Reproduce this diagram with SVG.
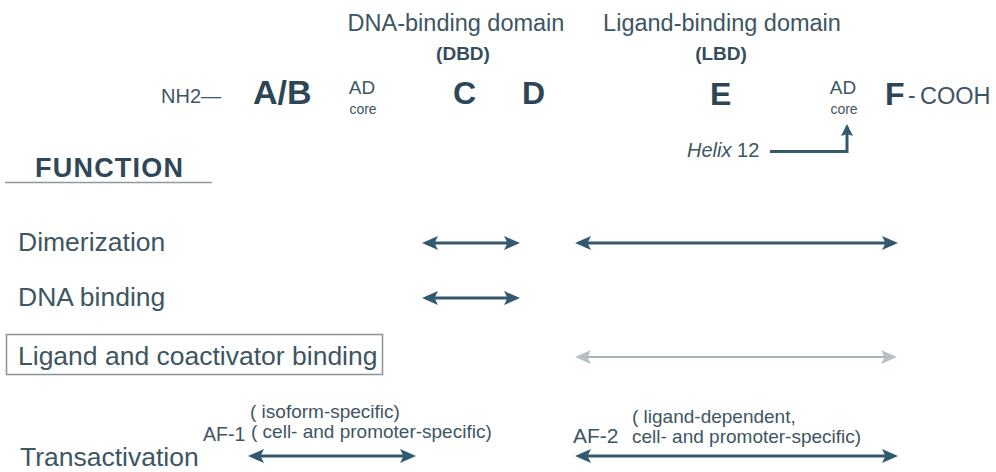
<svg xmlns="http://www.w3.org/2000/svg" width="996" height="472" viewBox="0 0 996 472">
<defs>
<style>
text{font-family:"Liberation Sans",Arial,sans-serif;fill:#3e5562}
.big{font-weight:bold;font-size:32px;fill:#2c4657}
.hdr{font-size:23.5px;text-anchor:middle}
.abbr{font-size:19px;font-weight:bold;text-anchor:middle;fill:#354d5b}
.ad{font-size:19px;text-anchor:middle}
.core{font-size:14px;text-anchor:middle}
.lbl{font-size:26.5px}
.sm{font-size:19px}
.dark{stroke:#33596e;stroke-width:3;fill:none}
.grey{stroke:#a7b3b7;stroke-width:2;fill:none}
</style>
<marker id="ah" viewBox="0 0 16 14" refX="12" refY="7" markerWidth="16" markerHeight="14" markerUnits="userSpaceOnUse" orient="auto-start-reverse">
<path d="M0,0 L16,7 L0,14 L3.5,7 Z" fill="#33596e"/>
</marker>
<marker id="ahg" viewBox="0 0 16 14" refX="12" refY="7" markerWidth="16" markerHeight="14" markerUnits="userSpaceOnUse" orient="auto-start-reverse">
<path d="M0,0 L16,7 L0,14 L3.5,7 Z" fill="#b6c1c4"/>
</marker>
<marker id="up" viewBox="0 0 12 12" refX="9" refY="6" markerWidth="12" markerHeight="12" markerUnits="userSpaceOnUse" orient="auto">
<path d="M0,0 L12,6 L0,12 L2,6 Z" fill="#33596e"/>
</marker>
</defs>
<rect width="996" height="472" fill="#ffffff"/>

<g id="domain-headers">
<text class="hdr" x="456" y="31">DNA-binding domain</text>
<text class="abbr" x="463" y="60">(DBD)</text>
<text class="hdr" x="722" y="31">Ligand-binding domain</text>
<text class="abbr" x="721" y="60">(LBD)</text>
</g>

<g id="domain-row">
<text x="161" y="103" style="font-size:20px">NH2—</text>
<text class="big" x="253" y="104" style="font-size:34px">A/B</text>
<g id="ad-core-1"><text class="ad" x="362" y="94">AD</text><text class="core" x="363" y="114">core</text></g>
<text class="big" x="453" y="104">C</text>
<text class="big" x="522" y="104">D</text>
<text class="big" x="710" y="105">E</text>
<g id="ad-core-2"><text class="ad" x="843" y="94">AD</text><text class="core" x="844" y="114">core</text></g>
<text class="big" x="885" y="105">F</text>
<text x="908" y="103" style="font-size:23px">-</text>
<text x="920" y="104" style="font-size:23.5px">COOH</text>
</g>

<g id="helix12">
<text x="687" y="157" style="font-size:20px"><tspan font-style="italic">Helix</tspan> 12</text>
</g>

<g id="function-header">
<text x="35" y="177" style="font-size:27px;font-weight:bold;fill:#2f4756" textLength="148">FUNCTION</text>
<line x1="5" y1="182.5" x2="212" y2="182.5" stroke="#8f989c" stroke-width="1.5"/>
</g>

<g id="labels">
<text class="lbl" x="18" y="251">Dimerization</text>
<text class="lbl" x="18" y="306">DNA binding</text>
<g id="ligand-box">
<rect x="6.5" y="334.5" width="376" height="40" fill="none" stroke="#8a9296" stroke-width="1.5"/>
<text class="lbl" x="18" y="365">Ligand and coactivator binding</text>
</g>
<text class="lbl" x="20" y="466">Transactivation</text>
<g id="af1">
<text x="203" y="441" style="font-size:19.5px">AF-1</text>
<text class="sm" x="250" y="418">( isoform-specific)</text>
<text class="sm" x="251" y="438">( cell- and promoter-specific)</text>
</g>
<g id="af2">
<text x="573" y="443" style="font-size:21px">AF-2</text>
<text class="sm" x="632" y="423">( ligand-dependent,</text>
<text class="sm" x="632" y="443">cell- and promoter-specific)</text>
</g>
</g>

<g id="connectors">
<polyline class="dark" points="770,151.5 847,151.5 847,127" stroke-width="2" marker-end="url(#up)"/>
<line class="dark" x1="426" y1="243" x2="516" y2="243" marker-start="url(#ah)" marker-end="url(#ah)"/>
<line class="dark" x1="579" y1="243" x2="894" y2="243" marker-start="url(#ah)" marker-end="url(#ah)"/>
<line class="dark" x1="426" y1="298" x2="516" y2="298" marker-start="url(#ah)" marker-end="url(#ah)"/>
<line class="grey" x1="579" y1="357" x2="893" y2="357" marker-start="url(#ahg)" marker-end="url(#ahg)"/>
<line class="dark" x1="252" y1="456" x2="412" y2="456" marker-start="url(#ah)" marker-end="url(#ah)"/>
<line class="dark" x1="579" y1="456" x2="894" y2="456" marker-start="url(#ah)" marker-end="url(#ah)"/>
</g>
</svg>
